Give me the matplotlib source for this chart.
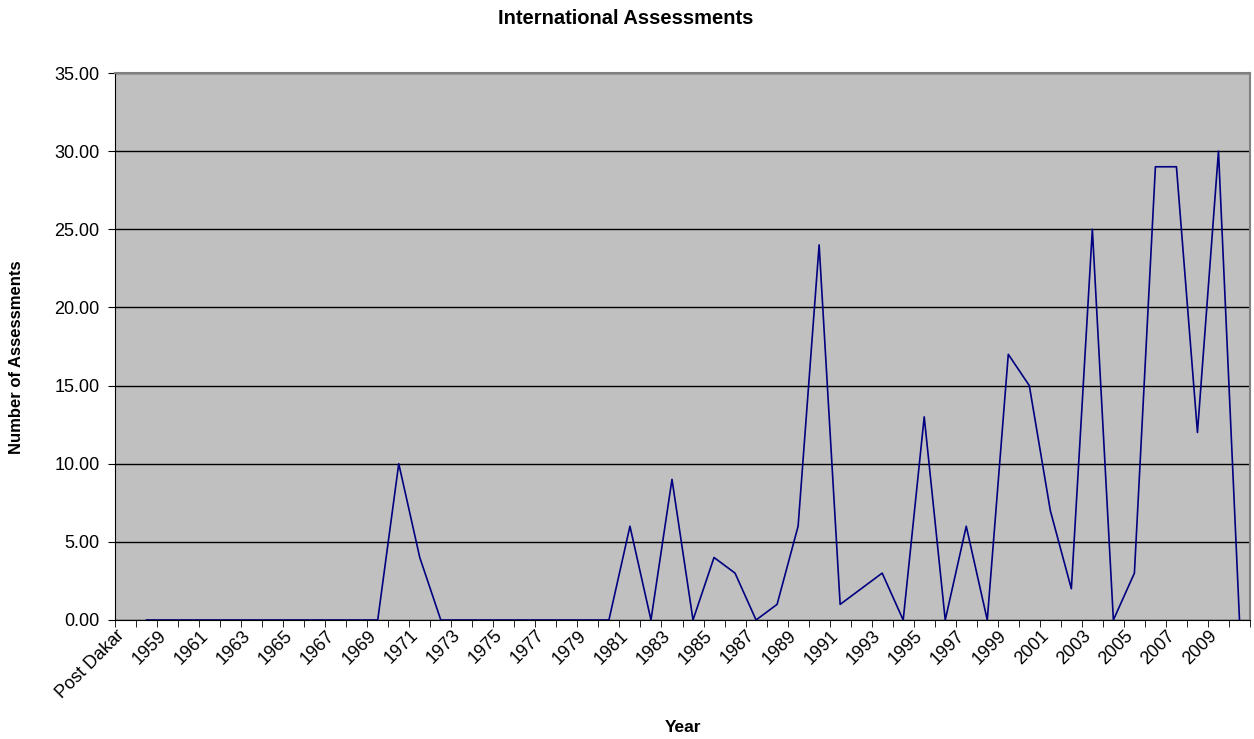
import numpy as np
import matplotlib
matplotlib.use("Agg")
from matplotlib import pyplot as plt
from matplotlib.transforms import ScaledTranslation

plt.rcParams['font.family'] = ['Liberation Sans', 'DejaVu Sans']

# categories: "Post Dakar" then 1958..2010
years = ["Post Dakar"] + [str(y) for y in range(1958, 2011)]

# number of assessments per year (Post Dakar has no value)
counts = [np.nan,
          0, 0, 0, 0, 0, 0, 0, 0, 0, 0, 0, 0,   # 1958-1969
          10, 4, 0, 0, 0, 0, 0, 0, 0, 0, 0,     # 1970-1980
          6, 0, 9, 0, 4, 3, 0, 1, 6, 24,        # 1981-1990
          1, 2, 3, 0, 13, 0, 6, 0, 17, 15,     # 1991-2000
          7, 2, 25, 0, 3, 29, 29, 12, 30, 0]   # 2001-2010

fig = plt.figure(figsize=(12.54, 7.39), dpi=100)
ax = fig.add_axes([115/1254, 1 - 620/739, 1135/1254, 547/739])
ax.set_facecolor('#C0C0C0')

x = np.arange(len(years))
ax.plot(x, counts, color='#000080', lw=1.2)

ax.set_xlim(-0.5, len(years) - 0.5)
ax.set_ylim(0, 35)
ax.set_yticks(np.arange(0, 36, 5))
ax.set_yticklabels(['%.2f' % v for v in np.arange(0, 36, 5)], fontsize=13)
ax.yaxis.grid(True, color='black', lw=1)
ax.set_axisbelow(True)

# labels every other category, ticks between categories
ax.set_xticks(x[::2])
ax.set_xticklabels(years[::2], rotation=45, ha='right', va='top',
                   rotation_mode='anchor', fontsize=13)
ax.tick_params(axis='x', which='major', length=0, pad=5)
shift = ScaledTranslation(-10/100, 0, fig.dpi_scale_trans)
for lbl in ax.get_xticklabels():
    lbl.set_transform(lbl.get_transform() + shift)
ax.set_xticks(np.arange(-0.5, len(years), 1), minor=True)
ax.tick_params(axis='x', which='minor', length=5, direction='out', color='black')
ax.tick_params(axis='y', length=5, direction='out', pad=6)

for side in ['top', 'right']:
    ax.spines[side].set_color('#808080')
    ax.spines[side].set_linewidth(1.5)
ax.spines['left'].set_color('black')
ax.spines['bottom'].set_color('black')

fig.text(626/1254, 1 - 18/739, 'International Assessments', ha='center', va='center',
         fontsize=14.5, fontweight='bold')
fig.text(683/1254, 1 - 727/739, 'Year', ha='center', va='center',
         fontsize=12.5, fontweight='bold')
fig.text(17/1254, 1 - 357/739, 'Number of Assessments', ha='center', va='center',
         rotation=90, fontsize=12, fontweight='bold')

fig.savefig('out.png', dpi=100)
